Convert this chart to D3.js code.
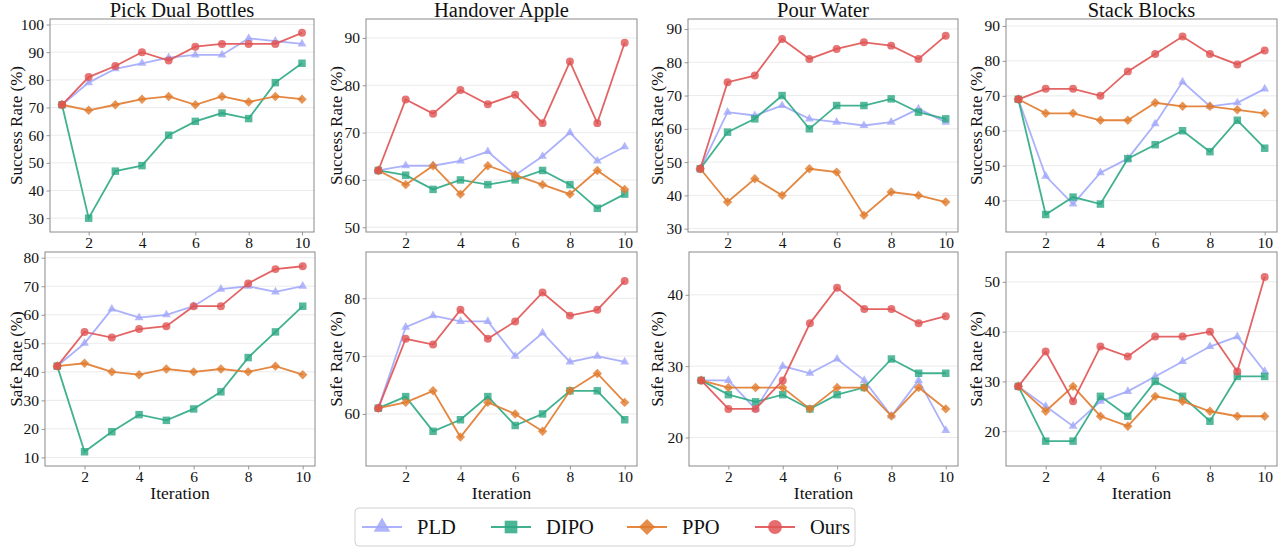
<!DOCTYPE html>
<html lang="en">
<head>
    <meta charset="UTF-8">
    <title>Success / Safe Rate</title>
    <script src="https://cdn.jsdelivr.net/npm/d3@7/dist/d3.min.js"></script>
    <style>
        body { margin: 0; background: #fff; }
        svg text { font-family: "Liberation Serif", "Times New Roman", serif; fill: #111; }
    </style>
</head>
<body>
    <div class="chart"></div>
<script>
    const iterations = [1, 2, 3, 4, 5, 6, 7, 8, 9, 10]
    const tasks = ['Pick Dual Bottles', 'Handover Apple', 'Pour Water', 'Stack Blocks']
    const methods = ['PLD', 'DIPO', 'PPO', 'Ours']
    const xTicks = [2, 4, 6, 8, 10]

    // success rate (%), one list per task
    const successPLD = [
        [71, 79, 84, 86, 88, 89, 89, 95, 94, 93],
        [62, 63, 63, 64, 66, 61, 65, 70, 64, 67],
        [48, 65, 64, 67, 63, 62, 61, 62, 66, 62],
        [69, 47, 39, 48, 52, 62, 74, 67, 68, 72]
    ]
    const successDIPO = [
        [71, 30, 47, 49, 60, 65, 68, 66, 79, 86],
        [62, 61, 58, 60, 59, 60, 62, 59, 54, 57],
        [48, 59, 63, 70, 60, 67, 67, 69, 65, 63],
        [69, 36, 41, 39, 52, 56, 60, 54, 63, 55]
    ]
    const successPPO = [
        [71, 69, 71, 73, 74, 71, 74, 72, 74, 73],
        [62, 59, 63, 57, 63, 61, 59, 57, 62, 58],
        [48, 38, 45, 40, 48, 47, 34, 41, 40, 38],
        [69, 65, 65, 63, 63, 68, 67, 67, 66, 65]
    ]
    const successOurs = [
        [71, 81, 85, 90, 87, 92, 93, 93, 93, 97],
        [62, 77, 74, 79, 76, 78, 72, 85, 72, 89],
        [48, 74, 76, 87, 81, 84, 86, 85, 81, 88],
        [69, 72, 72, 70, 77, 82, 87, 82, 79, 83]
    ]

    // safe rate (%), one list per task
    const safePLD = [
        [42, 50, 62, 59, 60, 63, 69, 70, 68, 70],
        [61, 75, 77, 76, 76, 70, 74, 69, 70, 69],
        [28, 28, 24, 30, 29, 31, 28, 23, 28, 21],
        [29, 25, 21, 26, 28, 31, 34, 37, 39, 32]
    ]
    const safeDIPO = [
        [42, 12, 19, 25, 23, 27, 33, 45, 54, 63],
        [61, 63, 57, 59, 63, 58, 60, 64, 64, 59],
        [28, 26, 25, 26, 24, 26, 27, 31, 29, 29],
        [29, 18, 18, 27, 23, 30, 27, 22, 31, 31]
    ]
    const safePPO = [
        [42, 43, 40, 39, 41, 40, 41, 40, 42, 39],
        [61, 62, 64, 56, 62, 60, 57, 64, 67, 62],
        [28, 27, 27, 27, 24, 27, 27, 23, 27, 24],
        [29, 24, 29, 23, 21, 27, 26, 24, 23, 23]
    ]
    const safeOurs = [
        [42, 54, 52, 55, 56, 63, 63, 71, 76, 77],
        [61, 73, 72, 78, 73, 76, 81, 77, 78, 83],
        [28, 24, 24, 28, 36, 41, 38, 38, 36, 37],
        [29, 36, 26, 37, 35, 39, 39, 40, 32, 51]
    ]

    const colors = { PLD: '#a2a8f9', DIPO: '#2ca883', PPO: '#e07a2c', Ours: '#e05353' }
    const shapes = {
        PLD: { type: d3.symbolTriangle, size: 34, rot: 0 },
        DIPO: { type: d3.symbolSquare, size: 56, rot: 0 },
        PPO: { type: d3.symbolSquare, size: 44, rot: 45 },
        Ours: { type: d3.symbolCircle, size: 50, rot: 0 }
    }

    const rows = [
        { label: 'Success Rate (%)', data: { PLD: successPLD, DIPO: successDIPO, PPO: successPPO, Ours: successOurs }, top: 19, bottom: 232 },
        { label: 'Safe Rate (%)', data: { PLD: safePLD, DIPO: safeDIPO, PPO: safePPO, Ours: safeOurs }, top: 252, bottom: 466 }
    ]
    const colLeft = [[50, 366, 688, 1006], [45, 366, 689, 1006]]
    const colRight = [[314, 637, 958, 1277], [315, 637, 958, 1277]]
    const ylabelX = [16, 336, 657, 976]

    const width = 1283
    const height = 550
    const svg = d3.select('.chart').append('svg')
        .attr('width', width)
        .attr('height', height)

    function drawPanel(r, c) {
        const row = rows[r]
        const left = colLeft[r][c]
        const right = colRight[r][c]
        const allVals = methods.flatMap(m => row.data[m][c])
        const lo = d3.min(allVals) - 5
        const hi = d3.max(allVals) + 5

        const x = d3.scaleLinear().domain([0.55, 10.45]).range([left, right])
        const y = d3.scaleLinear().domain([lo, hi]).range([row.bottom, row.top])
        const yTicks = d3.range(Math.ceil(lo / 10) * 10, hi, 10)

        const g = svg.append('g')

        // grid
        g.selectAll('.grid').data(yTicks).enter().append('line')
            .attr('x1', left).attr('x2', right)
            .attr('y1', d => y(d)).attr('y2', d => y(d))
            .attr('stroke', '#e6e6e6').attr('stroke-width', 0.8)

        const xAxis = g.append('g')
            .attr('transform', `translate(0, ${row.bottom})`)
            .call(d3.axisBottom(x).tickValues(xTicks).tickSize(3.5).tickPadding(1.5))
        const yAxis = g.append('g')
            .attr('transform', `translate(${left}, 0)`)
            .call(d3.axisLeft(y).tickValues(yTicks).tickSize(3.5).tickPadding(2.5))
        ;[xAxis, yAxis].forEach(a => {
            a.select('.domain').remove()
            a.selectAll('line').attr('stroke', '#999')
            a.selectAll('text').attr('font-size', '15.5px').attr('fill', '#111')
        })

        // frame
        g.append('rect')
            .attr('x', left).attr('y', row.top)
            .attr('width', right - left).attr('height', row.bottom - row.top)
            .attr('fill', 'none').attr('stroke', '#8a8a8a').attr('stroke-width', 1)

        const line = d3.line().x((d, i) => x(iterations[i])).y(d => y(d))
        methods.forEach(m => {
            const vals = row.data[m][c]
            g.append('path')
                .attr('d', line(vals))
                .attr('fill', 'none')
                .attr('stroke', colors[m])
                .attr('stroke-width', 1.8)
                .attr('stroke-opacity', 0.9)
            const s = shapes[m]
            g.selectAll('.pt-' + m).data(vals).enter().append('path')
                .attr('d', d3.symbol().type(s.type).size(s.size))
                .attr('transform', (d, i) => `translate(${x(iterations[i])}, ${y(d)}) rotate(${s.rot})`)
                .attr('fill', colors[m])
                .attr('fill-opacity', 0.8)
        })

        if (r === 0) {
            g.append('text')
                .attr('x', (left + right) / 2).attr('y', 17)
                .attr('text-anchor', 'middle')
                .attr('font-size', '20.5px')
                .text(tasks[c])
        } else {
            g.append('text')
                .attr('x', (left + right) / 2).attr('y', 499)
                .attr('text-anchor', 'middle')
                .attr('font-size', '17.5px')
                .text('Iteration')
        }

        g.append('text')
            .attr('transform', `translate(${ylabelX[c]}, ${(row.top + row.bottom) / 2}) rotate(-90)`)
            .attr('text-anchor', 'middle')
            .attr('dy', '0.35em')
            .attr('font-size', '17px')
            .text(row.label)
    }

    rows.forEach((row, r) => tasks.forEach((t, c) => drawPanel(r, c)))

    // legend
    const legend = svg.append('g')
    legend.append('rect')
        .attr('x', 355).attr('y', 508)
        .attr('width', 500).attr('height', 38)
        .attr('rx', 4)
        .attr('fill', '#fff').attr('stroke', '#d0d0d0')
    const legendX = [362, 491, 627, 755]
    const legendShapes = {
        PLD: 120, DIPO: 160, PPO: 130, Ours: 150
    }
    methods.forEach((m, i) => {
        const lx = legendX[i]
        const ly = 527
        legend.append('line')
            .attr('x1', lx).attr('x2', lx + 40)
            .attr('y1', ly).attr('y2', ly)
            .attr('stroke', colors[m]).attr('stroke-width', 2.2).attr('stroke-opacity', 0.9)
        legend.append('path')
            .attr('d', d3.symbol().type(shapes[m].type).size(legendShapes[m]))
            .attr('transform', `translate(${lx + 20}, ${ly}) rotate(${shapes[m].rot})`)
            .attr('fill', colors[m]).attr('fill-opacity', 0.85)
        legend.append('text')
            .attr('x', lx + 55).attr('y', ly)
            .attr('dy', '0.35em')
            .attr('font-size', '20.5px')
            .text(m)
    })
</script>
</body>
</html>
